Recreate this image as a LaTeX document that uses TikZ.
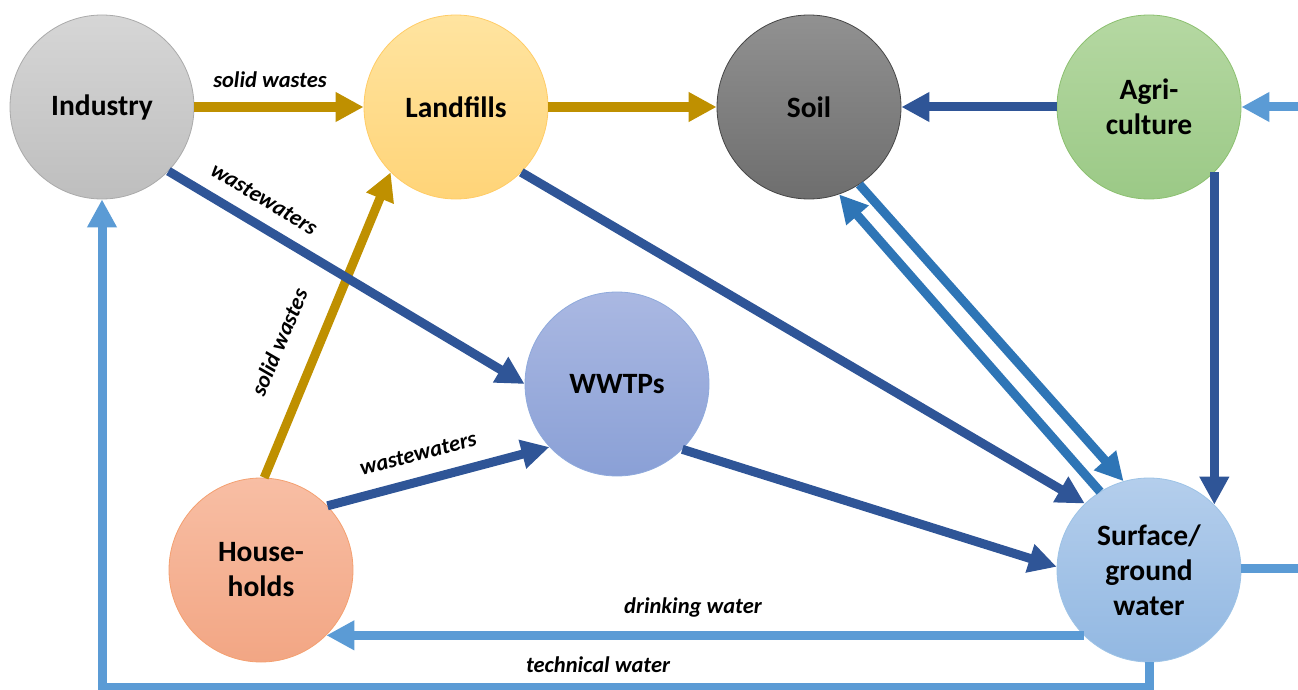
\documentclass[tikz,border=0pt]{standalone}
\usepackage{fontspec}
\setmainfont{Carlito}
\usetikzlibrary{arrows.meta}
\definecolor{gold}{HTML}{BF9000}
\definecolor{dblue}{HTML}{2F5597}
\definecolor{mblue}{HTML}{2E75B6}
\definecolor{lblue}{HTML}{5B9BD5}
\begin{document}
\begin{tikzpicture}[x=1pt,y=-1pt,
  ball/.style={circle, minimum size=184pt, inner sep=0pt, line width=0.8pt,
    font=\fontsize{29.5}{35}\selectfont\bfseries, align=center},
  flowline/.style={line width=9pt, -{Triangle[length=28pt,width=28pt]}},
  plainline/.style={line width=9pt},
  lbl/.style={font=\fontsize{22.5}{25}\selectfont\bfseries\itshape, inner sep=0pt}
]
\useasboundingbox (0,0) rectangle (1298,690);

\node[ball, draw={rgb,255:red,170;green,170;blue,170}, top color={rgb,255:red,214;green,214;blue,214}, bottom color={rgb,255:red,190;green,190;blue,190}] (ind) at (102,107) {Industry};
\node[ball, draw={rgb,255:red,255;green,204;blue,102}, top color={rgb,255:red,255;green,228;blue,160}, bottom color={rgb,255:red,255;green,212;blue,120}] (land) at (456,107) {Landfills};
\node[ball, draw={rgb,255:red,70;green,70;blue,70}, top color={rgb,255:red,145;green,145;blue,145}, bottom color={rgb,255:red,110;green,110;blue,110}] (soil) at (809,107) {Soil};
\node[ball, draw={rgb,255:red,140;green,192;blue,112}, top color={rgb,255:red,181;green,216;blue,162}, bottom color={rgb,255:red,155;green,201;blue,134}] (agri) at (1149,107) {Agri-\\culture};
\node[ball, draw={rgb,255:red,143;green,170;blue,220}, top color={rgb,255:red,170;green,184;blue,226}, bottom color={rgb,255:red,138;green,160;blue,214}] (wwtp) at (617,384) {WWTPs};
\node[ball, draw={rgb,255:red,244;green,160;blue,112}, top color={rgb,255:red,248;green,190;blue,164}, bottom color={rgb,255:red,242;green,166;blue,132}] (hh) at (261,570) {House-\\holds};
\node[ball, draw={rgb,255:red,157;green,195;blue,230}, top color={rgb,255:red,180;green,206;blue,236}, bottom color={rgb,255:red,146;green,184;blue,226}] (surf) at (1149,570) {Surface/\\ground\\water};

\coordinate (rin) at (1298,107);
\coordinate (rout) at (1298,568);

% gold flows
\draw[flowline, gold, line width=10pt] (ind.east) -- (land.west);
\draw[flowline, gold, line width=10pt] (land.east) -- (soil.west);
\draw[flowline, gold] (hh.88) -- (land.-135);

% dark blue flows
\draw[flowline, dblue] (agri.west) -- (soil.east);
\draw[flowline, dblue] (ind.-44) -- (wwtp.west);
\draw[flowline, dblue] (hh.44) -- (wwtp.223);
\draw[flowline, dblue] (land.-45) -- (surf.134);
\draw[flowline, dblue] (wwtp.-45) -- (surf.178);
\draw[flowline, dblue] (agri.-45) -- (surf.45);

% soil <-> surface
\draw[flowline, mblue] (soil.-57) -- (surf.106);
\draw[flowline, mblue] (surf.122) -- (soil.-71);

% light blue
\draw[flowline, lblue] (rin) -- (agri.east);
\draw[plainline, lblue] (surf.east |- rout) -- (rout);
\draw[flowline, lblue] (surf.-135) -- (hh.-45);
\draw[flowline, lblue] (surf.south) -- ++(0,25) -| (ind.south);

% labels
\node[lbl] (l1) at (270,80) {solid wastes};
\node[lbl, rotate=-31] (l2) at (264,199) {wastewaters};
\node[lbl, rotate=67] (l3) at (279,342) {solid wastes};
\node[lbl, rotate=14.6] (l4) at (418,454) {wastewaters};
\node[lbl] (l5) at (693,607) {drinking water};
\node[lbl] (l6) at (598,665) {technical water};
\end{tikzpicture}
\end{document}
